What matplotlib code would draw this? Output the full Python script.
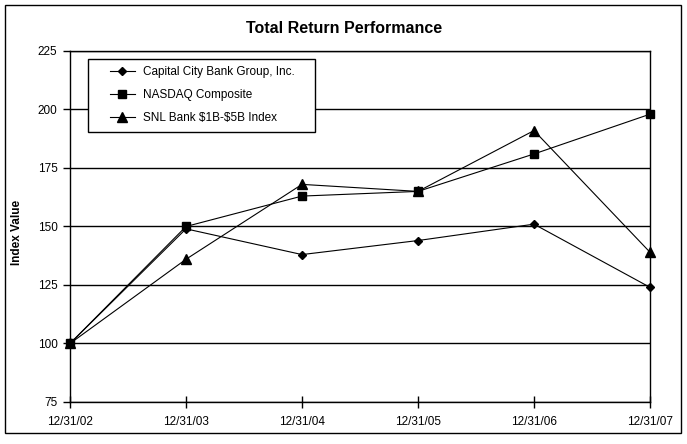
import matplotlib
matplotlib.use("Agg")
import matplotlib.pyplot as plt
from matplotlib.patches import Rectangle

dates = ["12/31/02", "12/31/03", "12/31/04", "12/31/05", "12/31/06", "12/31/07"]
capital_city = [100, 149, 138, 144, 151, 124]
nasdaq = [100, 150, 163, 165, 181, 198]
snl_bank = [100, 136, 168, 165, 191, 139]
y_ticks = [75, 100, 125, 150, 175, 200, 225]

plt.rcParams['font.family'] = ['Liberation Sans', 'DejaVu Sans']

W, H = 687, 444
fig = plt.figure(figsize=(W / 100, H / 100), dpi=100)
fig.patch.set_facecolor('white')

# outer chart border
fig.patches.append(Rectangle((4.5 / W, 1 - 432.5 / H), (681 - 4.5) / W, (432.5 - 5) / H,
                             transform=fig.transFigure, fill=False, edgecolor='black', lw=1))

ax = fig.add_axes([70 / W, 1 - 402 / H, (650 - 70) / W, (402 - 51) / H])
x = list(range(len(dates)))

ax.plot(x, capital_city, color='black', lw=0.8, marker='D', markersize=4.5, clip_on=False,
        label='Capital City Bank Group, Inc.', zorder=3)
ax.plot(x, nasdaq, color='black', lw=0.8, marker='s', markersize=5.5, clip_on=False,
        label='NASDAQ Composite', zorder=3)
ax.plot(x, snl_bank, color='black', lw=0.8, marker='^', markersize=6.5, clip_on=False,
        label='SNL Bank \\$1B-\\$5B Index', zorder=3)

ax.set_xlim(0, len(dates) - 1)
ax.set_ylim(75, 225)
ax.set_yticks(y_ticks)
ax.set_xticks(x)
ax.set_xticklabels(dates)
ax.yaxis.grid(True, color='black', lw=1)
ax.set_axisbelow(True)
for s in ax.spines.values():
    s.set_linewidth(1)
    s.set_color('black')
ax.tick_params(axis='x', direction='inout', length=8, width=1, labelsize=8.5, pad=6)
ax.tick_params(axis='y', direction='out', length=5, width=1, labelsize=8.5, pad=4)

fig.text(344 / W, 1 - 28.5 / H, 'Total Return Performance', ha='center', va='center',
         fontsize=11.5, fontweight='bold')
fig.text(17 / W, 1 - 232 / H, 'Index Value', ha='center', va='center', rotation=90,
         fontsize=8.5, fontweight='bold')

# legend frame
fig.patches.append(Rectangle((88 / W, 1 - 132 / H), (315 - 88) / W, (132 - 59) / H,
                             transform=fig.transFigure, facecolor='white', edgecolor='black', lw=1,
                             zorder=5))
leg = ax.legend(loc='upper left', bbox_to_anchor=(110 / W, 1 - 66 / H), bbox_transform=fig.transFigure,
                frameon=False, fontsize=8.5, handlelength=2.1,
                borderpad=0, labelspacing=0.95, handletextpad=0.7, borderaxespad=0)
leg.set_zorder(6)
leg.remove()
fig.legends.append(leg)
leg.set_figure(fig)

fig.savefig('out.png', dpi=100)
